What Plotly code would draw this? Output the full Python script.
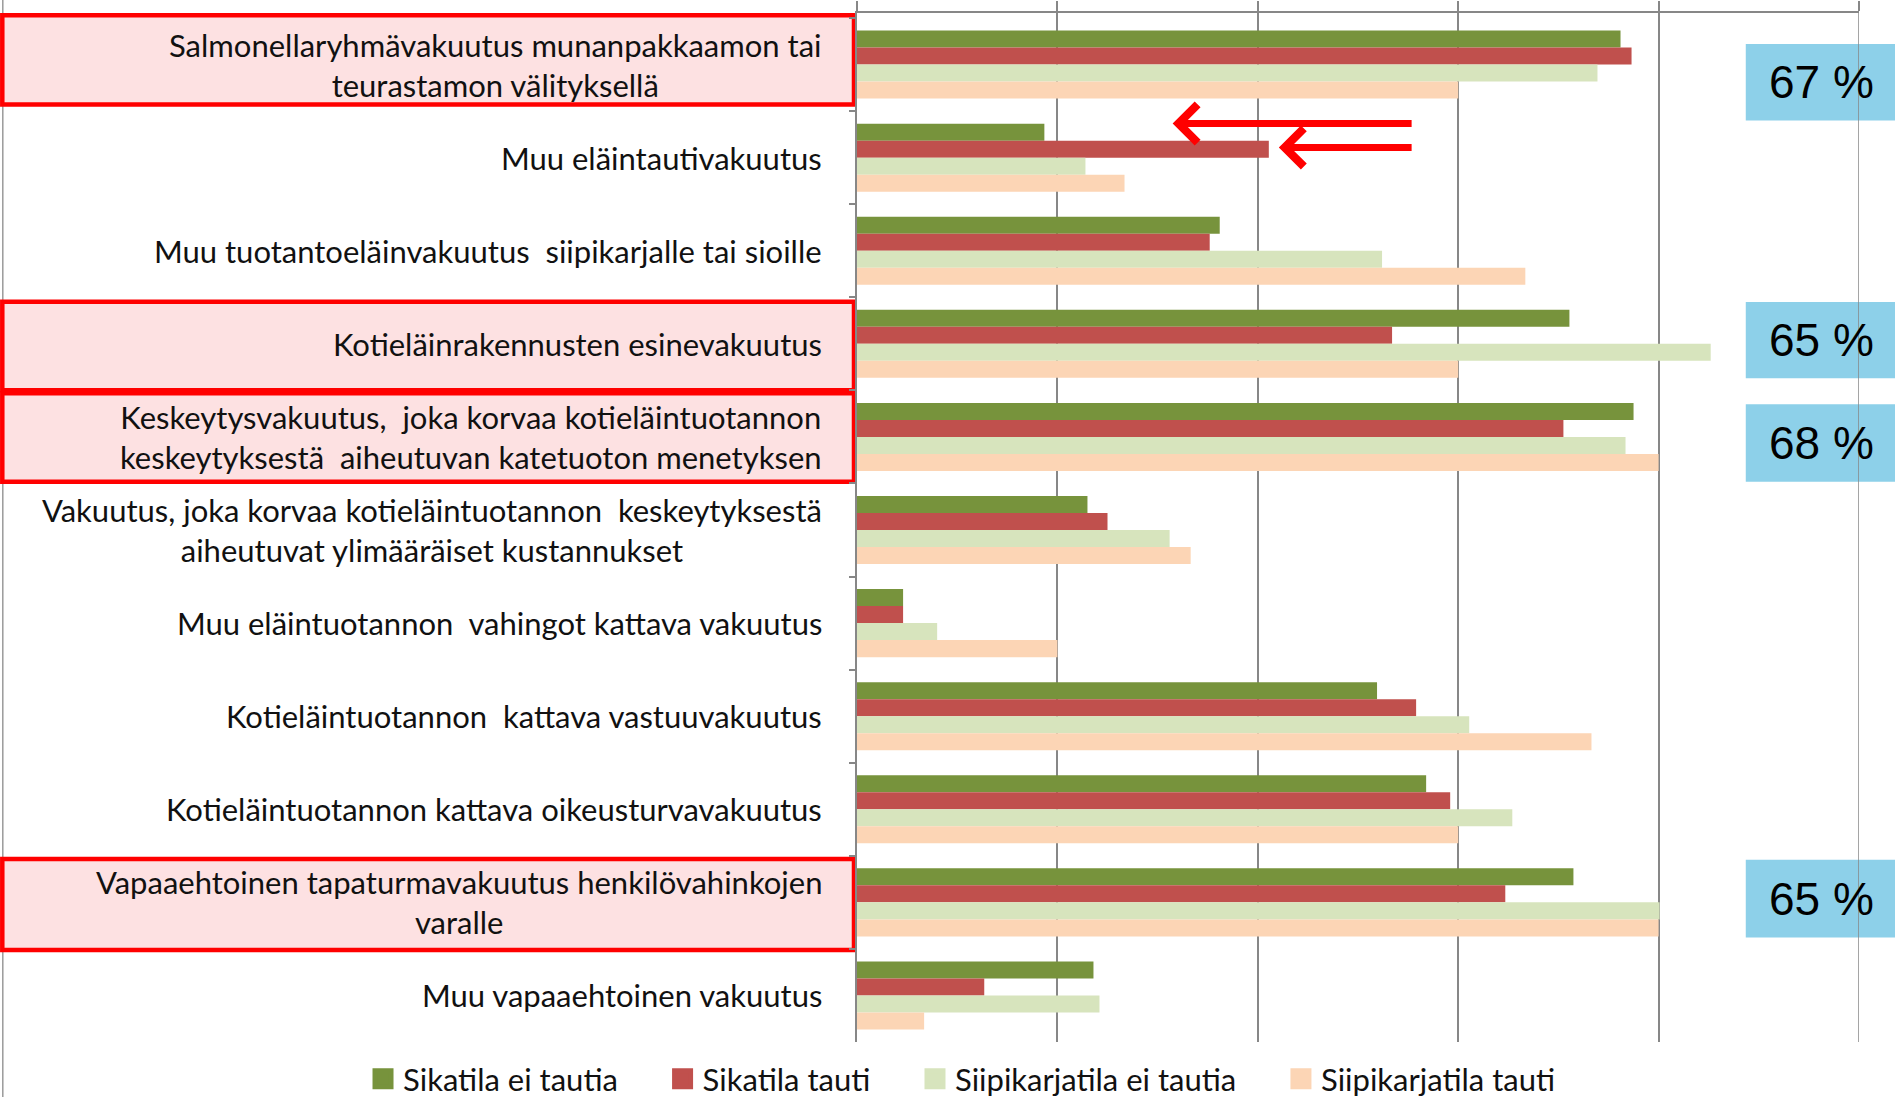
import plotly.graph_objects as go

# ---------------- data ----------------
categories = [
    "Salmonellaryhmävakuutus munanpakkaamon tai<br>teurastamon välityksellä",
    "Muu eläintautivakuutus",
    "Muu tuotantoeläinvakuutus  siipikarjalle tai sioille",
    "Kotieläinrakennusten esinevakuutus",
    "Keskeytysvakuutus,  joka korvaa kotieläintuotannon<br>keskeytyksestä  aiheutuvan katetuoton menetyksen",
    "Vakuutus, joka korvaa kotieläintuotannon  keskeytyksestä<br>aiheutuvat ylimääräiset kustannukset",
    "Muu eläintuotannon  vahingot kattava vakuutus",
    "Kotieläintuotannon  kattava vastuuvakuutus",
    "Kotieläintuotannon kattava oikeusturvavakuutus",
    "Vapaaehtoinen tapaturmavakuutus henkilövahinkojen<br>varalle",
    "Muu vapaaehtoinen vakuutus",
]
sikatila_ei_tautia = [76.2, 18.7, 36.2, 71.1, 77.5, 23.0, 4.6, 51.9, 56.8, 71.5, 23.6]
sikatila_tauti = [77.3, 41.1, 35.2, 53.4, 70.5, 25.0, 4.6, 55.8, 59.2, 64.7, 12.7]
siipikarjatila_ei_tautia = [73.9, 22.8, 52.4, 85.2, 76.7, 31.2, 8.0, 61.1, 65.4, 80.1, 24.2]
siipikarjatila_tauti = [60.0, 26.7, 66.7, 60.0, 80.0, 33.3, 20.0, 73.3, 60.0, 80.0, 6.7]

series_names = ["Sikatila ei tautia", "Sikatila tauti",
                "Siipikarjatila ei tautia", "Siipikarjatila tauti"]
series_values = [sikatila_ei_tautia, sikatila_tauti,
                 siipikarjatila_ei_tautia, siipikarjatila_tauti]
colors = ["#77933C", "#C0504D", "#D7E4BD", "#FCD5B5"]

highlight_rows = [0, 3, 4, 9]
highlight_labels = ["67 %", "65 %", "68 %", "65 %"]

# ---------------- styling ----------------
FONT = "Lato, 'Liberation Sans Narrow', 'Open Sans', sans-serif"
LBL_SIZE = 31
GRID = "#878787"

fig = go.Figure()
for name, vals, col in zip(series_names, series_values, colors):
    fig.add_trace(go.Bar(
        y=categories, x=vals, name=name, orientation="h",
        marker=dict(color=col, line=dict(width=0)), showlegend=False,
    ))
# legend-only entries (bigger square swatches)
nbsp = "\u00a0" * 5
for name, col in zip(series_names, colors):
    fig.add_trace(go.Scatter(
        x=[None], y=[None], mode="markers", name=name + nbsp,
        marker=dict(symbol="square", size=16, color=col,
                    line=dict(color=col, width=5)), showlegend=True,
    ))

# category labels as centred multi-line text
annotations = []
for cat in categories:
    annotations.append(dict(
        x=0, xref="paper", y=cat, yref="y", xanchor="right", yanchor="middle",
        xshift=-33, text=cat, showarrow=False, align="center",
        font=dict(family=FONT, size=LBL_SIZE, color="#111111"),
    ))

shapes = []
# thin left border line of the chart area
shapes.append(dict(type="line", xref="paper", yref="paper",
                   x0=-0.8525, x1=-0.8525, y0=-0.06, y1=1.02,
                   line=dict(color="#9a9a9a", width=1.5), layer="below"))
# gridline at the right end of the axis (100)
shapes.append(dict(type="line", xref="x", yref="paper",
                   x0=100, x1=100, y0=0, y1=1.0097,
                   line=dict(color=GRID, width=1.5), layer="above"))

red_box_y = [(-0.53, 0.43), (2.547, 3.499), (3.531, 4.482), (8.533, 9.511)]
for (y0, y1) in red_box_y:
    shapes.append(dict(type="rect", xref="paper", yref="y",
                       x0=-0.853, x1=-0.003, y0=y0, y1=y1,
                       fillcolor="#FDE1E2", line=dict(color="#FF0000", width=4.5),
                       layer="below"))

blue_box_y = [(-0.22, 0.6), (2.55, 3.37), (3.648, 4.482), (8.543, 9.377)]
for (y0, y1), txt in zip(blue_box_y, highlight_labels):
    shapes.append(dict(type="rect", xref="paper", yref="y",
                       x0=0.887, x1=1.04, y0=y0, y1=y1,
                       fillcolor="#8DD0E9", line=dict(width=0), layer="below"))
    annotations.append(dict(
        x=0.9625, xref="paper", y=(y0 + y1) / 2, yref="y", xanchor="center",
        yanchor="middle", text=txt, showarrow=False,
        font=dict(family="'Liberation Sans', Arial, sans-serif", size=46, color="#000000"),
    ))

# red arrows pointing at row 2
for (tip, tail, yy) in [(31.5, 55.5, 0.633), (42.1, 55.5, 0.89)]:
    annotations.append(dict(
        x=tip, y=yy, xref="x", yref="y", ax=tail, ay=yy, axref="x", ayref="y",
        text="", showarrow=True, arrowhead=4, arrowsize=1.05, arrowwidth=7,
        arrowcolor="#FF0000", standoff=0, startstandoff=0,
    ))

fig.update_layout(
    width=1895, height=1097,
    margin=dict(l=857, r=36, t=13, b=55, pad=0, autoexpand=False),
    paper_bgcolor="white", plot_bgcolor="rgba(0,0,0,0)",
    barmode="group", bargap=0.269, bargroupgap=0,
    font=dict(family=FONT, size=LBL_SIZE, color="#111111"),
    shapes=shapes, annotations=annotations,
    legend=dict(orientation="h", x=-0.493, xanchor="left", y=-0.036,
                yanchor="middle", font=dict(family=FONT, size=LBL_SIZE, color="#111111"),
                bgcolor="rgba(0,0,0,0)", itemsizing="trace"),
    showlegend=True,
)
fig.update_xaxes(
    range=[0, 100], side="top", showgrid=True, gridcolor=GRID, gridwidth=1.5,
    dtick=20, tick0=0, showticklabels=False, ticks="outside", ticklen=10,
    tickcolor=GRID, tickwidth=1.5, showline=True, linecolor=GRID, linewidth=1.5,
    zeroline=False, fixedrange=True,
)
fig.update_yaxes(
    autorange="reversed", showticklabels=False, ticks="outside", ticklen=6,
    tickson="boundaries", tickcolor=GRID, tickwidth=1.5, showline=True,
    linecolor=GRID, linewidth=1.5, showgrid=False, fixedrange=True,
)

fig.write_html("out.html", config={"displayModeBar": False},
               post_script="document.body.style.margin='0';")
